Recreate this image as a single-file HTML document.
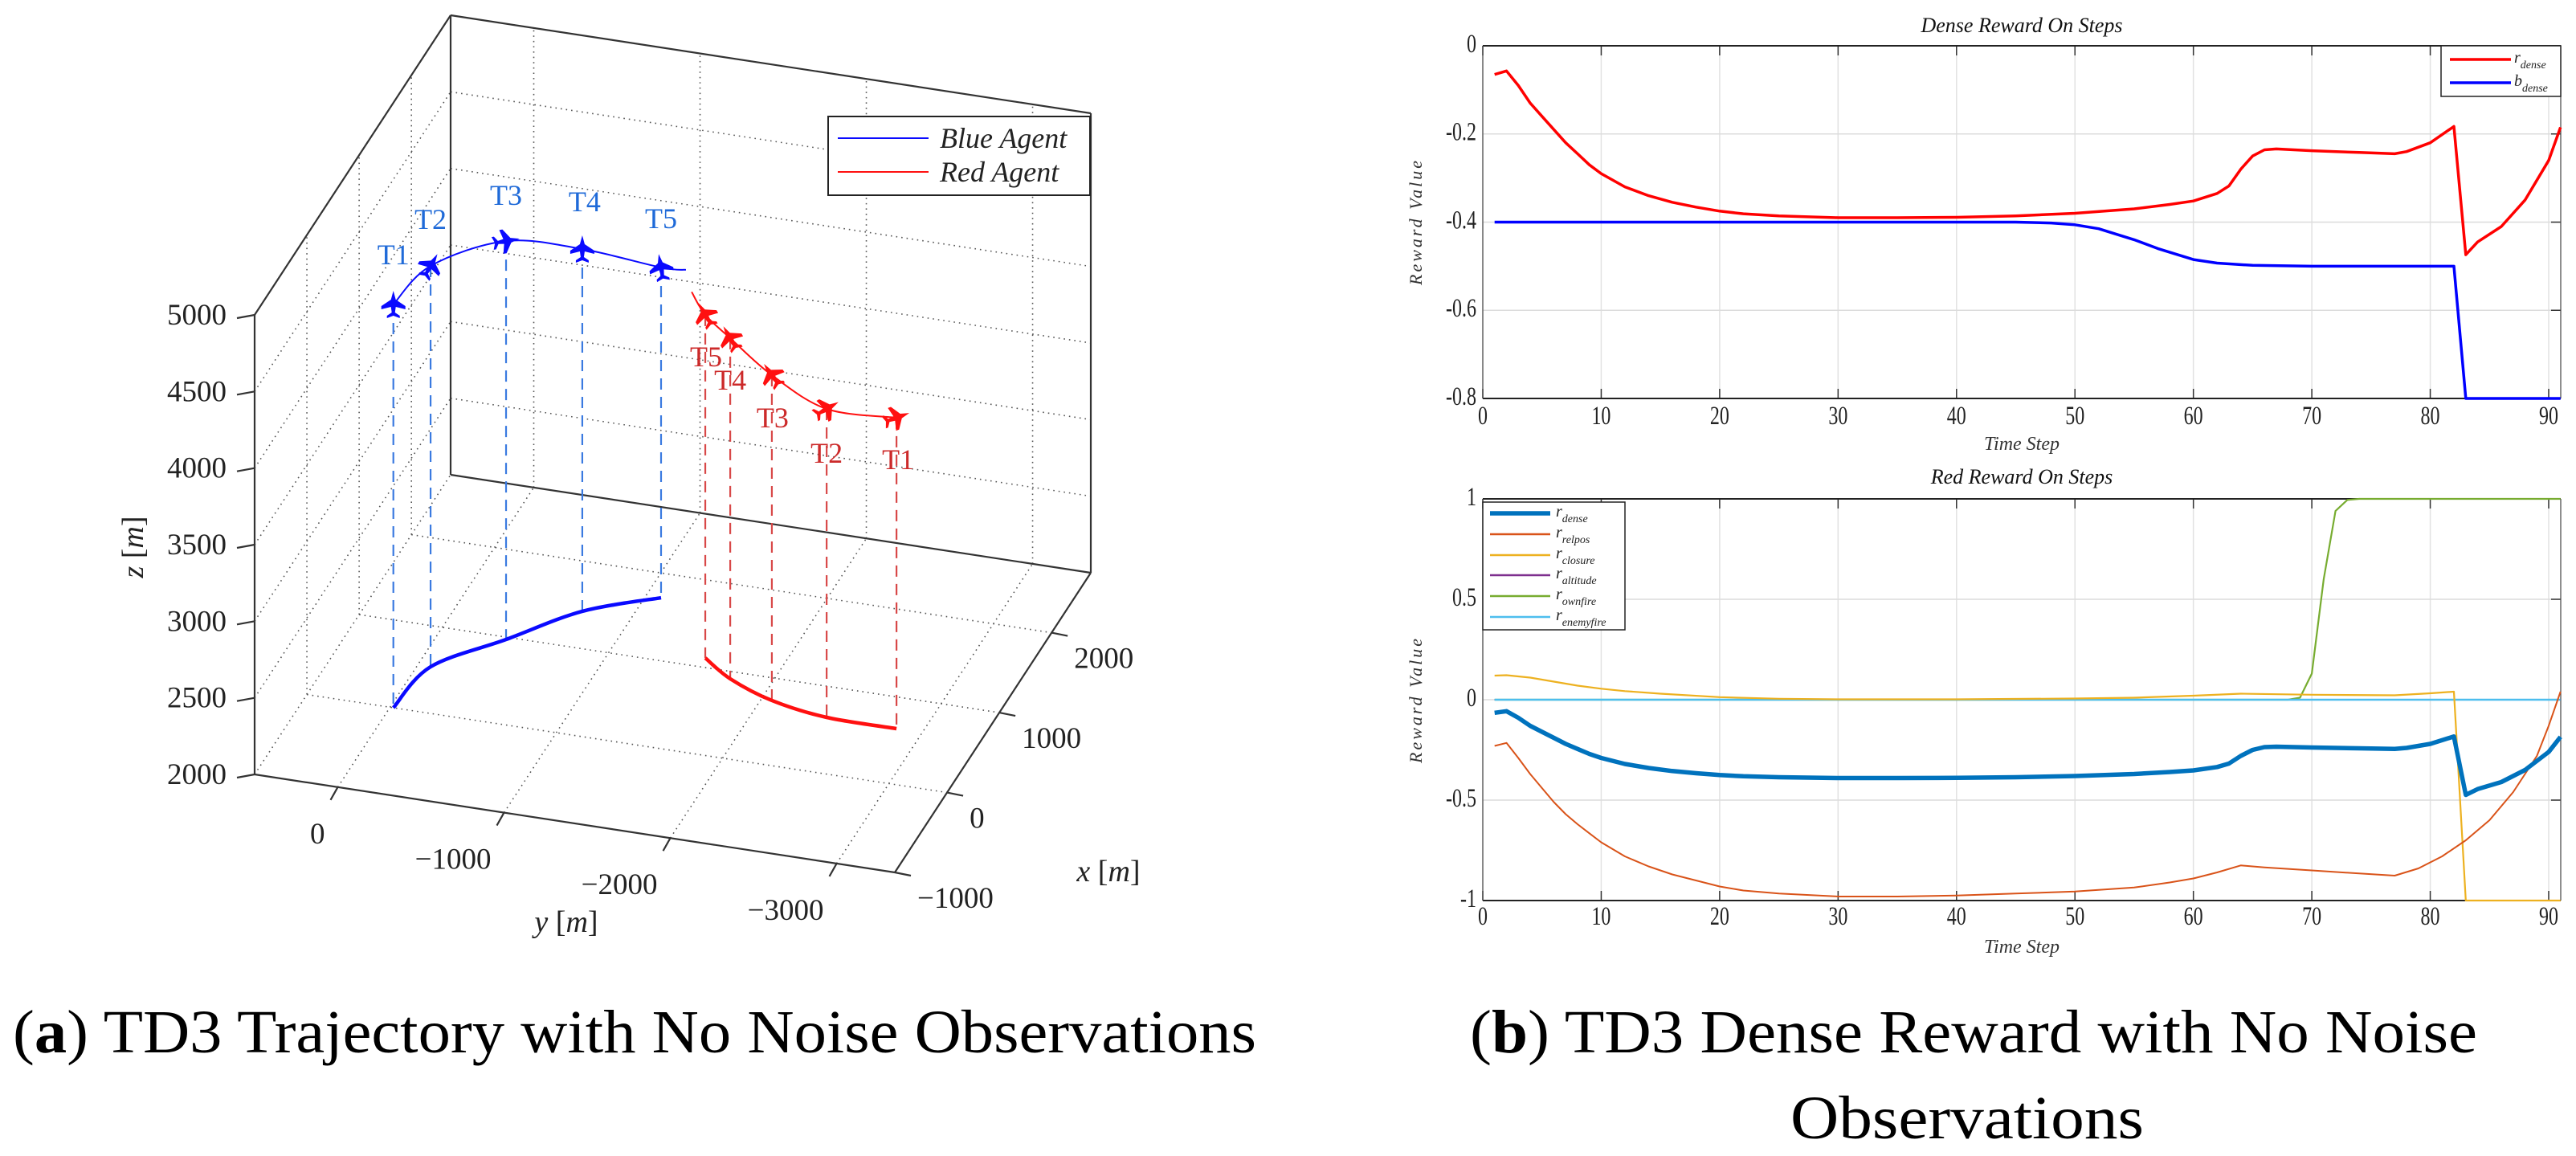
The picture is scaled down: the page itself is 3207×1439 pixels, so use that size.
<!DOCTYPE html>
<html><head><meta charset="utf-8"><style>
html,body{margin:0;padding:0;background:#fff;}
svg{display:block;}
text{font-family:"Liberation Serif",serif;}
</style></head><body>
<svg id="fig" width="3207" height="1439" viewBox="0 0 3207 1439" xmlns="http://www.w3.org/2000/svg">
<g id="left"></g>
<g id="top"></g>
<g id="bot"></g>
<text x="16" y="1310" font-size="76" textLength="1548" lengthAdjust="spacingAndGlyphs">(<tspan font-weight="bold">a</tspan>) TD3 Trajectory with No Noise Observations</text>
<text x="1830" y="1310" font-size="76" textLength="1254" lengthAdjust="spacingAndGlyphs">(<tspan font-weight="bold">b</tspan>) TD3 Dense Reward with No Noise</text>
<text x="2229" y="1417" font-size="76" textLength="440" lengthAdjust="spacingAndGlyphs">Observations</text>
</svg>
<script>
// ---------- 3D trajectory data ----------
const blueX = [0, 531, 973, 1426, 1718, 1780];
const blueY = [-20, -77, -392, -708, -1090, -1220];
const blueZ = [4633, 4617, 4601, 4365, 4156, 4130];
const redX = [639, 645, 742, 916, 1110, 1190];
const redY = [-2845, -2423, -2063, -1758, -1547, -1440];
const redZ = [4030, 4014, 4124, 4224, 4240, 4330];
const zTicks = [2000, 2500, 3000, 3500, 4000, 4500, 5000];
const yTicks = [0, -1000, -2000, -3000];
const xTicks = [-1000, 0, 1000, 2000];
const markLabels = ["T1","T2","T3","T4","T5"];

// ---------- 2D chart data ----------
const steps = [1,2,3,4,5,6,7,8,9,10,12,14,16,18,20,22,25,30,35,40,45,50,55,58,60,62,63,64,65,66,67,70,74,77,78,80,82,83,84,86,88,90,91];
const rDense = [-0.065,-0.057,-0.09,-0.13,-0.16,-0.19,-0.22,-0.245,-0.27,-0.29,-0.32,-0.34,-0.355,-0.366,-0.375,-0.381,-0.386,-0.39,-0.39,-0.389,-0.386,-0.38,-0.37,-0.36,-0.352,-0.335,-0.318,-0.28,-0.25,-0.236,-0.234,-0.238,-0.242,-0.245,-0.24,-0.22,-0.183,-0.474,-0.445,-0.41,-0.35,-0.26,-0.185];
const bSteps = [1,10,20,30,40,45,48,50,52,55,57,60,62,65,70,75,82,83,91];
const bDense = [-0.4,-0.4,-0.4,-0.4,-0.4,-0.4,-0.402,-0.406,-0.415,-0.44,-0.46,-0.485,-0.493,-0.498,-0.5,-0.5,-0.5,-0.8,-0.8];
const relSteps = [1,2,3,4,5,6,7,8,9,10,12,14,16,18,20,22,25,30,35,40,45,50,55,58,60,62,64,66,70,74,77,79,81,83,85,87,89,90,91];
const rRelpos = [-0.23,-0.215,-0.29,-0.37,-0.44,-0.51,-0.57,-0.62,-0.665,-0.71,-0.78,-0.83,-0.87,-0.9,-0.93,-0.95,-0.965,-0.98,-0.98,-0.975,-0.965,-0.955,-0.935,-0.91,-0.89,-0.86,-0.825,-0.835,-0.85,-0.865,-0.876,-0.84,-0.78,-0.7,-0.6,-0.46,-0.28,-0.13,0.04];
const cloSteps = [1,2,4,6,8,10,12,15,20,25,30,40,50,55,60,64,70,77,80,82,83,91];
const rClosure = [0.12,0.122,0.11,0.09,0.07,0.055,0.043,0.03,0.013,0.005,0.002,0.002,0.006,0.01,0.02,0.03,0.025,0.022,0.032,0.04,-1,-1];
const fireSteps = [1,68,69,70,71,72,73,74,91];
const rOwnfire = [0,0,0.01,0.13,0.6,0.94,0.995,1,1];
const flatSteps = [1,91];
const rAltitude = [0,0];
const rEnemyfire = [0,0];
const xTickVals = [0,10,20,30,40,50,60,70,80,90];
const topYTicks = [0,-0.2,-0.4,-0.6,-0.8];
const botYTicks = [1,0.5,0,-0.5,-1];

const NS = "http://www.w3.org/2000/svg";
function mk(parent, tag, attrs, txt){
  const e = document.createElementNS(NS, tag);
  for (const k in attrs) e.setAttribute(k, attrs[k]);
  if (txt !== undefined) e.textContent = txt;
  parent.appendChild(e);
  return e;
}

// ---------- 3D projection ----------
function P(x,y,z){
  const a=(x+1000)/3750, b=(500-y)/3850, c=(z-2000)/3000;
  return [317+244*a+797*b, 964-373*a+122*b-572*c];
}
const L = document.getElementById('left');
const XMIN=-1000, XMAX=2750, YMIN=-3350, YMAX=500, ZMIN=2000, ZMAX=5000;
function seg(g,p,q,st){ const e=mk(g,'line',Object.assign({x1:p[0],y1:p[1],x2:q[0],y2:q[1]},st)); return e; }
const dot = {stroke:'#555','stroke-width':1.6,'stroke-dasharray':'1.6 5'};
const gridG = mk(L,'g',{});


zTicks.forEach(z=>{ if(z===ZMIN) return;
  seg(gridG,P(XMIN,YMAX,z),P(XMAX,YMAX,z),dot);
  seg(gridG,P(XMAX,YMAX,z),P(XMAX,YMIN,z),dot);
});
yTicks.forEach(y=>{
  seg(gridG,P(XMAX,y,ZMIN),P(XMAX,y,ZMAX),dot);
  seg(gridG,P(XMIN,y,ZMIN),P(XMAX,y,ZMIN),dot);
});
xTicks.forEach(x=>{
  seg(gridG,P(x,YMAX,ZMIN),P(x,YMAX,ZMAX),dot);
  seg(gridG,P(x,YMAX,ZMIN),P(x,YMIN,ZMIN),dot);
});
seg(gridG,P(XMIN,YMAX,ZMIN),P(XMAX,YMAX,ZMIN),dot);
const box = {stroke:'#333','stroke-width':2.2};
const boxG = mk(L,'g',{});


seg(boxG,P(XMIN,YMAX,ZMIN),P(XMIN,YMAX,ZMAX),box);
seg(boxG,P(XMIN,YMAX,ZMAX),P(XMAX,YMAX,ZMAX),box);
seg(boxG,P(XMAX,YMAX,ZMIN),P(XMAX,YMAX,ZMAX),box);
seg(boxG,P(XMAX,YMAX,ZMAX),P(XMAX,YMIN,ZMAX),box);
seg(boxG,P(XMAX,YMIN,ZMAX),P(XMAX,YMIN,ZMIN),box);
seg(boxG,P(XMAX,YMAX,ZMIN),P(XMAX,YMIN,ZMIN),box);
seg(boxG,P(XMIN,YMAX,ZMIN),P(XMIN,YMIN,ZMIN),box);
seg(boxG,P(XMIN,YMIN,ZMIN),P(XMAX,YMIN,ZMIN),box);
zTicks.forEach(z=>{
  const p=P(XMIN,YMAX,z);
  seg(boxG,p,[p[0]-22,p[1]+4],box);
  const t=mk(L,'text',{x:282,y:p[1]+12,'font-size':37,'text-anchor':'end',fill:'#222'},String(z));
  
  
});
yTicks.forEach(y=>{
  const p=P(XMIN,y,ZMIN);
  seg(boxG,p,[p[0]-9,p[1]+16],box);
  const t=mk(L,'text',{x:p[0]-16,y:p[1]+70,'font-size':37,'text-anchor':'end',fill:'#222'},y===0?'0':'\u2212'+Math.abs(y));
  
  
});
xTicks.forEach(x=>{
  const p=P(x,YMIN,ZMIN);
  seg(boxG,p,[p[0]+20,p[1]+4],box);
  const t=mk(L,'text',{x:p[0]+28,y:p[1]+44,'font-size':37,'text-anchor':'start',fill:'#222'},x<0?'\u2212'+Math.abs(x):String(x));
  
  
});
let t;
t=mk(L,'text',{x:705,y:1160,'font-size':38,'text-anchor':'middle',fill:'#222'});
t.innerHTML='<tspan font-style="italic">y</tspan> [<tspan font-style="italic">m</tspan>]';


t=mk(L,'text',{x:1380,y:1097,'font-size':38,'text-anchor':'middle',fill:'#222'});
t.innerHTML='<tspan font-style="italic">x</tspan> [<tspan font-style="italic">m</tspan>]';


t=mk(L,'text',{x:0,y:0,'font-size':38,'text-anchor':'middle',fill:'#222',transform:'translate(178,681) rotate(-90)'});
t.innerHTML='<tspan font-style="italic">z</tspan> [<tspan font-style="italic">m</tspan>]';



function smooth(pts){
  let d='M'+pts[0][0]+','+pts[0][1];
  for(let i=0;i<pts.length-1;i++){
    const p0=pts[i-1]||pts[i], p1=pts[i], p2=pts[i+1], p3=pts[i+2]||p2;
    const c1=[p1[0]+(p2[0]-p0[0])/6, p1[1]+(p2[1]-p0[1])/6];
    const c2=[p2[0]-(p3[0]-p1[0])/6, p2[1]-(p3[1]-p1[1])/6];
    d+=' C'+c1+' '+c2+' '+p2;
  }
  return d;
}
const jet="M0,-17 L3,-6 L15,2 L15,6 L3,3 L2,10 L8,14 L8,17 L0,14 L-8,17 L-8,14 L-2,10 L-3,3 L-15,6 L-15,2 L-3,-6 Z";
function traj(X,Y,Z,col,dashCol,labCol,name,rots,labOff){
  const g=mk(L,'g',{});
  
  
  const up=X.map((x,i)=>P(x,Y[i],Z[i]));
  const fl=X.map((x,i)=>P(x,Y[i],ZMIN));
  for(let i=0;i<5;i++){
    const dl=seg(g,up[i],fl[i],{stroke:dashCol,'stroke-width':2.2,'stroke-dasharray':'14 9'});
    
    
  }
  const f=mk(g,'path',{d:smooth(fl.slice(0,5)),fill:'none',stroke:col,'stroke-width':4.5});
  
  
  const u=mk(g,'path',{d:smooth(up),fill:'none',stroke:col,'stroke-width':2});
  
  
  for(let i=0;i<5;i++){
    const a=mk(g,'path',{d:jet,fill:col,transform:'translate('+up[i][0]+','+up[i][1]+') rotate('+rots[i]+')'});
    
    
    const l=mk(g,'text',{x:up[i][0]+labOff[i][0],y:up[i][1]+labOff[i][1],'font-size':36,'text-anchor':'middle',fill:labCol},markLabels[i]);
    
    
  }
}
traj(blueX,blueY,blueZ,'#0a0aff','#3a7ae0','#1f6ad8','blue',[0,30,80,0,-10],[[0,-50],[0,-46],[0,-45],[3,-47],[0,-49]]);
traj(redX,redY,redZ,'#ff1010','#d84848','#cc2a2a','red',[70,60,-35,-30,-30],[[2,64],[0,67],[1,65],[0,64],[1,64]]);
const lg=mk(L,'g',{});


mk(lg,'rect',{x:1031,y:145,width:326,height:98,fill:'#fff',stroke:'#222','stroke-width':2});
mk(lg,'line',{x1:1043,y1:172,x2:1156,y2:172,stroke:'#0a0aff','stroke-width':2});
mk(lg,'line',{x1:1043,y1:214,x2:1156,y2:214,stroke:'#ff1010','stroke-width':2});
t=mk(lg,'text',{x:1170,y:184,'font-size':36,'font-style':'italic',fill:'#222'},'Blue Agent');


t=mk(lg,'text',{x:1170,y:226,'font-size':36,'font-style':'italic',fill:'#222'},'Red Agent');



// ---------- 2D charts ----------
const X0=1846, XPX=(3173-1846)/90, XR=3188;
function sx(s){return X0+s*XPX;}
function chart(G,yTop,yBot,vTop,vBot,yTicks,title,titleY,tsY,tickY,ylabY){
  const sy=v=>yTop+(vTop-v)/(vTop-vBot)*(yBot-yTop);
  xTickVals.forEach(v=>{
    const gl=mk(G,'line',{x1:sx(v),y1:yTop,x2:sx(v),y2:yBot,stroke:'#e2e2e2','stroke-width':1.5});
    
    
    mk(G,'line',{x1:sx(v),y1:yBot,x2:sx(v),y2:yBot-12,stroke:'#333','stroke-width':1.5});
    mk(G,'line',{x1:sx(v),y1:yTop,x2:sx(v),y2:yTop+12,stroke:'#333','stroke-width':1.5});
    const tl=mk(G,'text',{x:sx(v),y:tickY,'font-size':24,'text-anchor':'middle',fill:'#222',transform:'translate(0,'+tickY+') scale(1,1.35) translate(0,'+(-tickY)+')'},String(v));
    
    
  });
  yTicks.forEach(v=>{
    const gl=mk(G,'line',{x1:X0,y1:sy(v),x2:XR,y2:sy(v),stroke:'#dcdcdc','stroke-width':1.5});
    
    
    mk(G,'line',{x1:XR,y1:sy(v),x2:XR-12,y2:sy(v),stroke:'#333','stroke-width':1.5});
    const yy=sy(v)+8;
    const tl=mk(G,'text',{x:1838,y:yy,'font-size':24,'text-anchor':'end',fill:'#222',transform:'translate(0,'+yy+') scale(1,1.35) translate(0,'+(-yy)+')'},String(v));
    
    
  });
  mk(G,'line',{x1:X0,y1:yTop,x2:XR,y2:yTop,stroke:'#222','stroke-width':2});
  mk(G,'line',{x1:X0,y1:yBot,x2:XR,y2:yBot,stroke:'#222','stroke-width':2});
  mk(G,'line',{x1:X0,y1:yTop,x2:X0,y2:yBot,stroke:'#444','stroke-width':1.2});
  mk(G,'line',{x1:XR,y1:yTop,x2:XR,y2:yBot,stroke:'#444','stroke-width':1.2});
  let e=mk(G,'text',{x:2517,y:titleY,'font-size':26,'font-style':'italic','text-anchor':'middle',fill:'#111'},title);
  
  
  e=mk(G,'text',{x:2517,y:tsY,'font-size':24,'font-style':'italic','text-anchor':'middle',fill:'#333'},'Time  Step');
  
  
  e=mk(G,'text',{x:0,y:0,'font-size':22,'font-style':'italic','text-anchor':'middle',fill:'#333','letter-spacing':'3',transform:'translate(1770,'+ylabY+') rotate(-90)'},'Reward   Value');
  
  
  return sy;
}
function series(G,S,V,sy,col,w,name){
  const d=S.map((s,i)=>(i?'L':'M')+sx(s).toFixed(1)+','+sy(V[i]).toFixed(1)).join(' ');
  const p=mk(G,'path',{d:d,fill:'none',stroke:col,'stroke-width':w,'stroke-linejoin':'round'});
  
  
}
const TG=document.getElementById('top');
const syT=chart(TG,57,496,0,-0.8,topYTicks,'Dense Reward On Steps',40,560,528,276);
series(TG,steps,rDense,syT,'#ff0000',3.5,'line-r-dense');
series(TG,bSteps,bDense,syT,'#0000ff',3.5,'line-b-dense');
const BG=document.getElementById('bot');
const syB=chart(BG,621,1121,1,-1,botYTicks,'Red Reward On Steps',602,1186,1151,871);
series(BG,fireSteps,rOwnfire,syB,'#77AC30',2.2,'line-r-ownfire');
series(BG,flatSteps,rAltitude,syB,'#7E2F8E',2,'line-r-altitude');
series(BG,flatSteps,rEnemyfire,syB,'#4DBEEE',2.4,'line-r-enemyfire');
series(BG,cloSteps,rClosure,syB,'#EDB120',2.2,'line-r-closure');
series(BG,relSteps,rRelpos,syB,'#D95319',2,'line-r-relpos');
series(BG,steps,rDense,syB,'#0072BD',5.5,'line-r-dense');

function legend(G,x,y,w,h,entries,lx1,lx2,tx){
  const g=mk(G,'g',{});
  
  
  mk(g,'rect',{x:x,y:y,width:w,height:h,fill:'#fff',stroke:'#222','stroke-width':1.5});
  entries.forEach(en=>{
    mk(g,'line',{x1:lx1,y1:en[0],x2:lx2,y2:en[0],stroke:en[1],'stroke-width':en[2]});
    const tx2=mk(g,'text',{x:tx,y:en[0]+4,'font-size':20,'font-style':'italic',fill:'#222'});
    tx2.innerHTML=en[3]+'<tspan font-size="14" dy="7">'+en[4]+'</tspan>';
    
    
  });
}
legend(TG,3039,57,149,63,[[74,'#ff0000',3.5,'r','dense'],[103,'#0000ff',3.5,'b','dense']],3050,3126,3130);
legend(BG,1846,625,177,159,[[639,'#0072BD',5.5,'r','dense'],[665,'#D95319',2.5,'r','relpos'],[691,'#EDB120',2.5,'r','closure'],[716,'#7E2F8E',2.5,'r','altitude'],[742,'#77AC30',2.5,'r','ownfire'],[768,'#4DBEEE',2.5,'r','enemyfire']],1855,1930,1937);
</script>
</body></html>
